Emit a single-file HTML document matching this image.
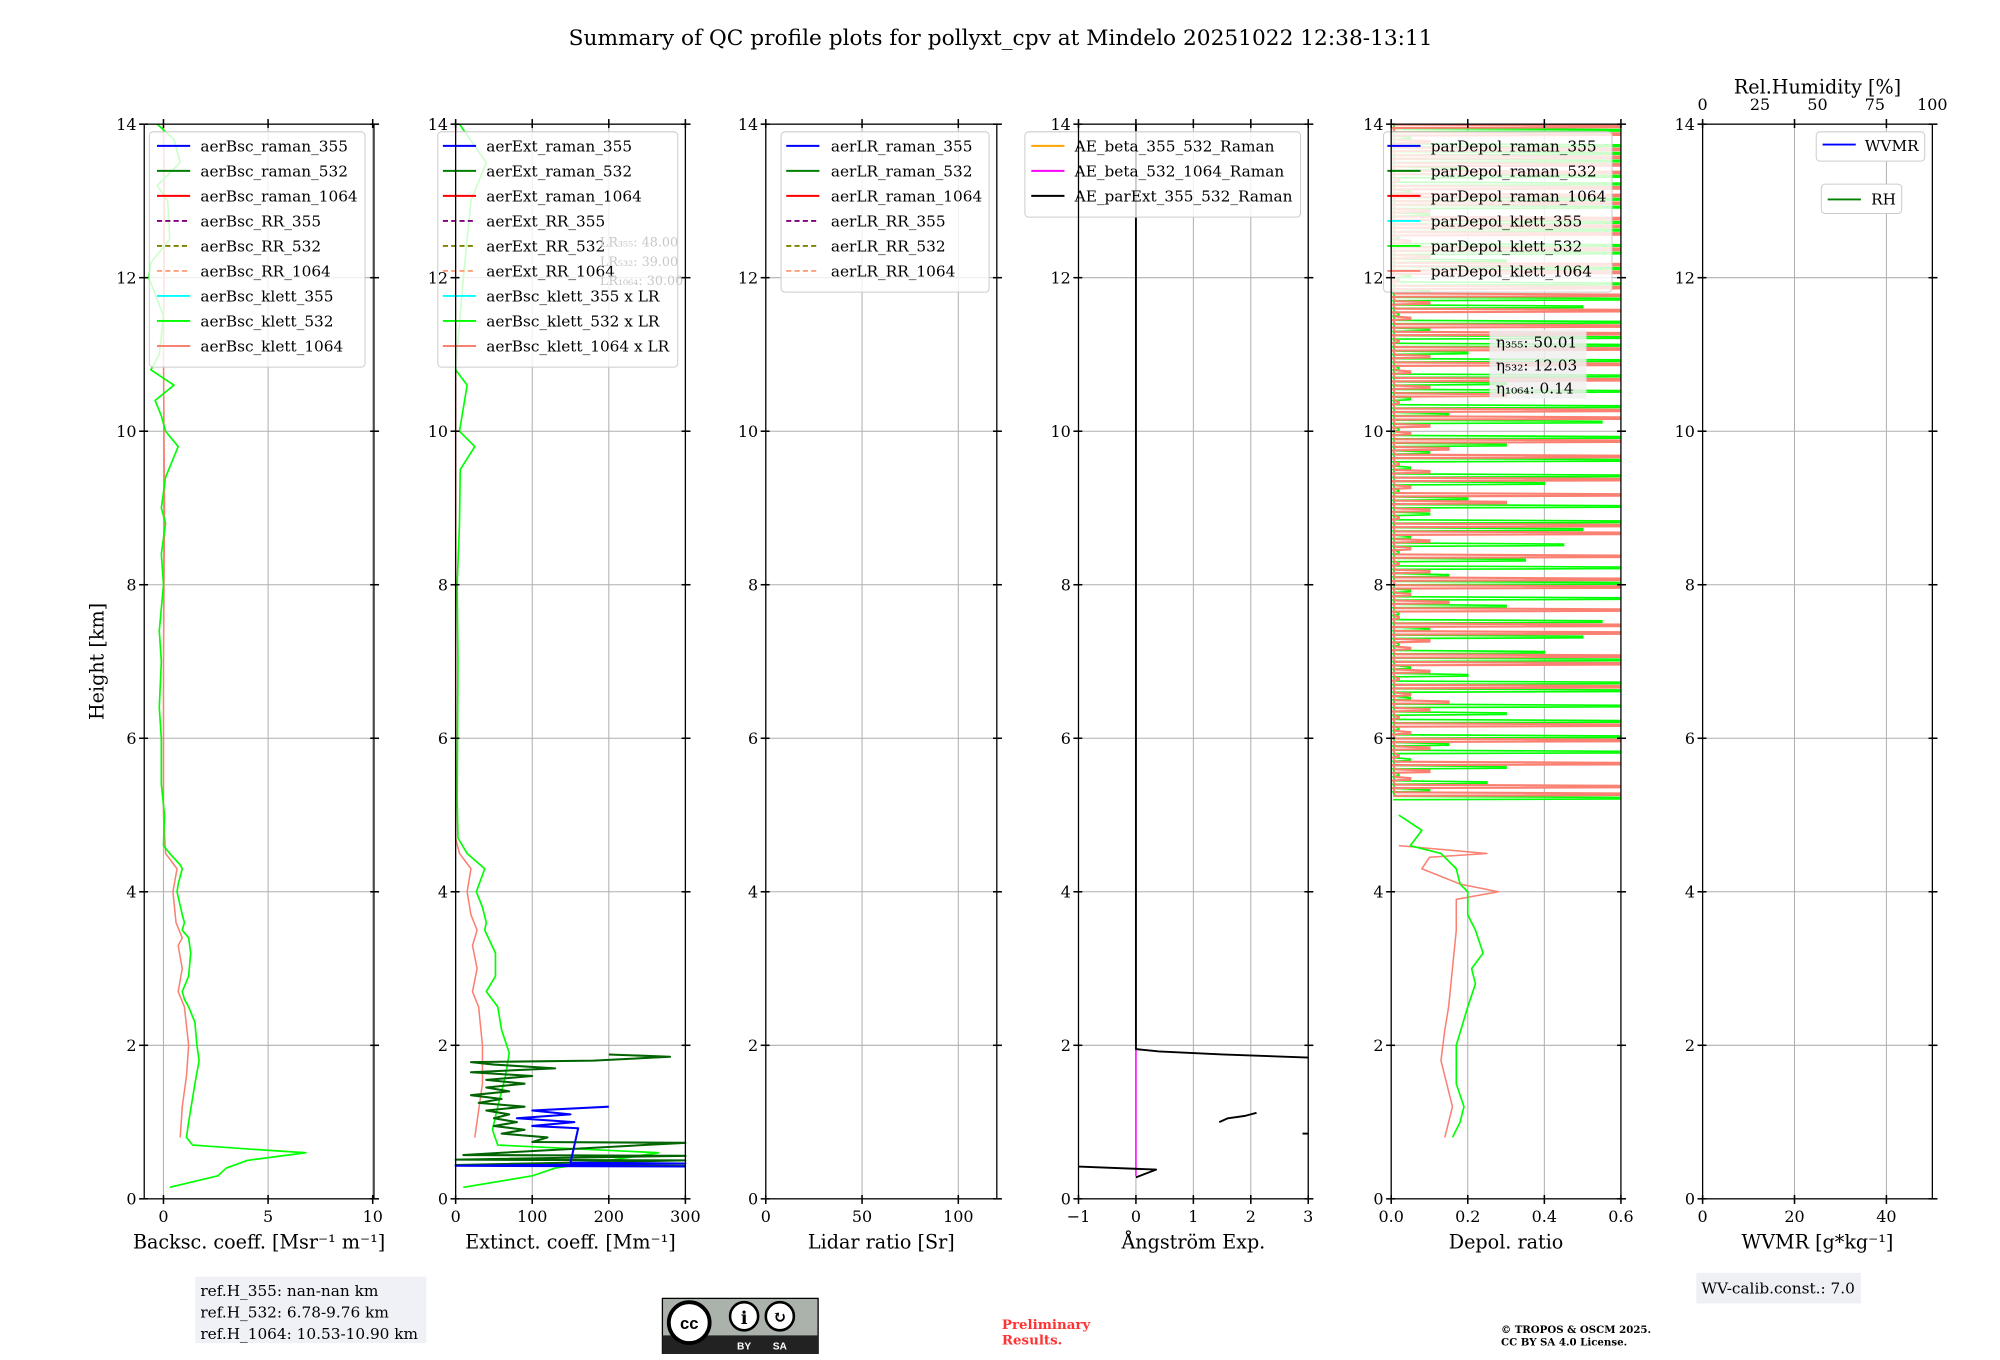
<!DOCTYPE html>
<html><head><meta charset="utf-8"><style>
html,body{margin:0;padding:0;background:#fff;}
svg{display:block;font-family:"DejaVu Serif","Liberation Serif",serif;}
</style></head><body>
<svg id="fig" width="2000" height="1360" viewBox="0 0 1567 1065" xmlns="http://www.w3.org/2000/svg">
<defs><clipPath id="dpclip"><rect x="1090" y="97" width="180" height="842"/></clipPath></defs>
<rect width="1567" height="1065" fill="#fff"/>
<text x="784" y="35" font-size="17" text-anchor="middle">Summary of QC profile plots for pollyxt_cpv at Mindelo 20251022 12:38-13:11</text>
<g id="plots"></g>
<text transform="translate(81,518) rotate(-90)" font-size="15" text-anchor="middle">Height [km]</text>
<g>
<rect x="153" y="1000" width="181" height="52" fill="#eef0f5" opacity="0.9"/>
<text x="157" y="1015" font-size="12">ref.H_355: nan-nan km</text>
<text x="157" y="1032" font-size="12">ref.H_532: 6.78-9.76 km</text>
<text x="157" y="1049" font-size="12">ref.H_1064: 10.53-10.90 km</text>
</g>
<g>
<rect x="519" y="1017" width="122" height="43" fill="#aab2ab" stroke="#000" stroke-width="1"/>
<rect x="519" y="1046" width="122" height="14" fill="#222"/>
<circle cx="540" cy="1036" r="16" fill="#fff" stroke="#000" stroke-width="3"/>
<text x="540" y="1041" font-size="13" font-weight="bold" text-anchor="middle" font-family="Liberation Sans,sans-serif">cc</text>
<circle cx="583" cy="1031" r="11" fill="#fff" stroke="#000" stroke-width="2"/>
<circle cx="611" cy="1031" r="11" fill="#fff" stroke="#000" stroke-width="2"/>
<text x="583" y="1037" font-size="14" font-weight="bold" text-anchor="middle">i</text>
<text x="611" y="1036" font-size="13" font-weight="bold" text-anchor="middle">↻</text>
<text x="583" y="1057" font-size="8" fill="#fff" text-anchor="middle" font-family="Liberation Sans,sans-serif" font-weight="bold">BY</text>
<text x="611" y="1057" font-size="8" fill="#fff" text-anchor="middle" font-family="Liberation Sans,sans-serif" font-weight="bold">SA</text>
</g>
<text x="785" y="1041" font-size="10.5" font-weight="bold" fill="#ff3333">Preliminary</text>
<text x="785" y="1053" font-size="10.5" font-weight="bold" fill="#ff3333">Results.</text>
<text x="1176" y="1044" font-size="8" font-weight="bold">© TROPOS &amp; OSCM 2025.</text>
<text x="1176" y="1054" font-size="8" font-weight="bold">CC BY SA 4.0 License.</text>
<g>
<rect x="1329" y="997" width="129" height="24" fill="#eef0f5"/>
<text x="1333" y="1013" font-size="12">WV-calib.const.: 7.0</text>
</g>
</svg>
<script>
// ---------- data ----------
const bscH532 = [0.15,0.3,0.4,0.5,0.6,0.65,0.7,0.8,1.0,1.5,1.8,2.0,2.3,2.5,2.6,2.7,2.9,3.2,3.4,3.5,3.6,3.7,4.0,4.1,4.3,4.35,4.5,4.6,5.0,5.4,6.0,6.4,7.0,7.4,8.0,8.4,8.8,9.0,9.4,9.8,10.0,10.2,10.4,10.6,10.8,11.0,11.5,12.0,12.2,12.5,13.0,13.2,13.5,13.8,14.0];
const bscV532 = [0.3,2.6,3.0,4.0,6.8,4.0,1.4,1.1,1.2,1.5,1.7,1.6,1.5,1.2,1.0,0.9,1.2,1.3,1.2,0.9,1.0,0.9,0.65,0.7,0.9,0.8,0.3,0.0,0.05,-0.1,-0.1,-0.2,-0.1,-0.2,0.0,-0.1,0.1,-0.1,0.1,0.7,0.1,-0.1,-0.4,0.5,-0.6,-0.2,0.0,-0.7,-0.6,0.3,0.2,-0.3,0.8,0.5,-0.3];
const bscH1064 = [0.8,1.2,1.6,2.0,2.5,2.7,3.0,3.3,3.4,3.6,4.0,4.3,4.5,5.0,7.0,9.0,11.0,13.0,14.0];
const bscV1064 = [0.8,0.9,1.1,1.2,1.0,0.7,0.9,0.7,0.9,0.6,0.45,0.65,0.1,0.0,0.0,0.05,0.0,0.05,0.0];
const extH532 = [0.15,0.3,0.4,0.5,0.6,0.65,0.7,0.9,1.2,1.6,1.9,2.2,2.5,2.7,2.9,3.2,3.5,3.6,3.8,4.0,4.3,4.5,4.7,5.2,7.0,8.0,8.8,9.5,9.8,10.0,10.6,10.8,12.0,13.0,13.5,14.0];
const extV532 = [10,100,130,200,265,160,55,48,55,65,70,60,55,40,52,52,38,40,35,27,38,15,3,2,3,2,5,6,25,5,15,0,10,20,40,5];
const extH1064 = [0.8,1.5,2.0,2.5,2.7,3.0,3.3,3.5,3.7,4.0,4.3,4.5,4.7,14.0];
const extV1064 = [25,35,35,30,22,28,22,28,20,15,20,5,0,0];
const ramH532 = [0.43,0.44,0.5,0.51,0.56,0.57,0.6,0.73,0.74,0.8,0.85,0.9,0.95,1.0,1.05,1.1,1.15,1.2,1.25,1.3,1.35,1.4,1.45,1.5,1.55,1.6,1.65,1.7,1.75,1.78,1.8,1.85,1.88];
const ramV532 = [300,0,300,0,300,10,60,300,100,120,60,90,50,80,50,70,40,90,30,60,20,70,40,90,40,100,20,130,50,20,180,280,200];
const ramH355 = [0.42,0.43,0.46,0.47,0.92,0.95,1.0,1.05,1.1,1.15,1.2];
const ramV355 = [300,0,300,150,160,100,155,80,150,100,200];
const aeH = [0.28,0.38,0.42];
const aeV = [0.0,0.35,-1.0];
const aeTopH = [1.84,1.88,1.92,1.95,14.0];
const aeTopV = [3.0,1.5,0.4,0.0,0.0];
const aeMidH = [1.0,1.05,1.08,1.12];
const aeMidV = [1.45,1.6,1.9,2.1];
const aeSegH = [0.85,0.85];
const aeSegV = [2.9,3.0];
const magH = [0.3,1.95];
const magV = [0.0,0.0];
const dpH532 = [0.8,1.0,1.2,1.5,2.0,2.5,2.8,3.0,3.2,3.5,3.7,4.0,4.1,4.3,4.5,4.6,4.8,5.0];
const dpV532 = [0.16,0.18,0.19,0.17,0.17,0.2,0.22,0.21,0.24,0.22,0.2,0.2,0.18,0.17,0.13,0.05,0.08,0.02];
const dpH1064 = [0.8,1.2,1.8,2.2,2.5,3.0,3.5,3.9,4.0,4.1,4.3,4.45,4.5,4.6];
const dpV1064 = [0.14,0.16,0.13,0.14,0.15,0.16,0.17,0.17,0.28,0.18,0.08,0.1,0.25,0.02];
// upper noisy depol, heights 5.2..14 step 0.1
const dpUpper532 = [0.6,0.1,0.25,0.02,0.3,0.05,0.6,0.15,0.6,0.02,0.6,0.3,0.6,0.05,0.6,0.6,0.2,0.05,0.6,0.4,0.02,0.5,0.1,0.55,0.02,0.3,0.6,0.05,0.6,0.15,0.6,0.35,0.02,0.45,0.05,0.5,0.6,0.1,0.6,0.2,0.02,0.4,0.6,0.05,0.6,0.1,0.3,0.6,0.02,0.55,0.15,0.6,0.05,0.6,0.3,0.6,0.02,0.6,0.2,0.6,0.6,0.1,0.6,0.02,0.5,0.6,0.1,0.6,0.05,0.6,0.3,0.6,0.6,0.02,0.6,0.6,0.1,0.6,0.6,0.05,0.6,0.6,0.2,0.6,0.6,0.6,0.05,0.6,0.6];
const dpUpper1064 = [0.6,0.6,0.05,0.1,0.6,0.02,0.1,0.6,0.05,0.6,0.02,0.1,0.15,0.05,0.6,0.02,0.1,0.6,0.6,0.05,0.1,0.6,0.6,0.02,0.6,0.15,0.05,0.6,0.6,0.1,0.02,0.6,0.05,0.1,0.6,0.6,0.02,0.1,0.3,0.6,0.05,0.6,0.1,0.02,0.6,0.15,0.6,0.05,0.1,0.6,0.6,0.02,0.3,0.1,0.6,0.05,0.6,0.1,0.6,0.02,0.6,0.6,0.05,0.6,0.1,0.6,0.6,0.02,0.6,0.6,0.1,0.6,0.05,0.6,0.6,0.6,0.1,0.6,0.6,0.6,0.02,0.6,0.6,0.6,0.6,0.1,0.6,0.6,0.6];
const yTicks = [0,2,4,6,8,10,12,14];

const NS = "http://www.w3.org/2000/svg";
const root = document.getElementById('plots');
const Y0 = 939, Y1 = 97;
function yPix(h){ return Y0 + (Y1 - Y0) * h / 14; }
function mk(tag, attrs, parent){
  const e = document.createElementNS(NS, tag);
  for (const k in attrs) e.setAttribute(k, attrs[k]);
  (parent || root).appendChild(e);
  return e;
}
const panels = [
  {name:'backscatter', x0:113, x1:293, min:-0.92, max:10.06, ticks:[0,5,10], labels:['0','5','10'], xlabel:'Backsc. coeff. [Msr⁻¹ m⁻¹]'},
  {name:'extinction', x0:357, x1:537, min:0, max:300, ticks:[0,100,200,300], labels:['0','100','200','300'], xlabel:'Extinct. coeff. [Mm⁻¹]'},
  {name:'lidar-ratio', x0:600, x1:781, min:0, max:120, ticks:[0,50,100], labels:['0','50','100'], xlabel:'Lidar ratio [Sr]'},
  {name:'angstrom', x0:845, x1:1025, min:-1, max:3, ticks:[-1,0,1,2,3], labels:['−1','0','1','2','3'], xlabel:'Ångström Exp.'},
  {name:'depol', x0:1090, x1:1270, min:0, max:0.6, ticks:[0,0.2,0.4,0.6], labels:['0.0','0.2','0.4','0.6'], xlabel:'Depol. ratio'},
  {name:'wvmr', x0:1334, x1:1514, min:0, max:50, ticks:[0,20,40], labels:['0','20','40'], xlabel:'WVMR [g*kg⁻¹]'}
];
function xPix(p, v){ return p.x0 + (p.x1 - p.x0) * (v - p.min) / (p.max - p.min); }
function line(p, hs, vs, color, w, name, g){
  const pts = hs.map((h,i)=> xPix(p, Math.max(p.min, Math.min(p.max, vs[i]))).toFixed(1)+','+yPix(h).toFixed(1)).join(' ');
  const e = mk('polyline', {points:pts, fill:'none', stroke:color, 'stroke-width':w, 'stroke-linejoin':'round'}, g);
  
  
  return e;
}
function spikes(p, hs, vs, color, w, name, g){
  const pts = [];
  hs.forEach((h,i)=>{
    const xv = xPix(p, Math.max(p.min, Math.min(p.max, vs[i])));
    pts.push(xPix(p,0.005).toFixed(1)+','+yPix(h).toFixed(1));
    pts.push(xv.toFixed(1)+','+yPix(h+0.01).toFixed(1));
    pts.push(xv.toFixed(1)+','+yPix(h+0.03).toFixed(1));
    pts.push(xPix(p,0.01).toFixed(1)+','+yPix(h+0.045).toFixed(1));
  });
  const e = mk('polyline', {points:pts.join(' '), fill:'none', stroke:color, 'stroke-width':w, 'clip-path':'url(#dpclip)'}, g);
  
  
}
const groups = panels.map(p => {
  const g = mk('g', {});
  
  
  p.ticks.forEach(t => mk('line', {x1:xPix(p,t), x2:xPix(p,t), y1:Y1, y2:Y0, stroke:'#b0b0b0', 'stroke-width':0.8}, g));
  yTicks.forEach(t => mk('line', {x1:p.x0, x2:p.x1, y1:yPix(t), y2:yPix(t), stroke:'#b0b0b0', 'stroke-width':0.8}, g));
  return g;
});
function frame(p, g){
  mk('rect', {x:p.x0, y:Y1, width:p.x1-p.x0, height:Y0-Y1, fill:'none', stroke:'#000', 'stroke-width':1}, g);
  yTicks.forEach(t => {
    mk('line', {x1:p.x0-4, x2:p.x0+3, y1:yPix(t), y2:yPix(t), stroke:'#000', 'stroke-width':1.2}, g);
    mk('line', {x1:p.x1-3, x2:p.x1+4, y1:yPix(t), y2:yPix(t), stroke:'#000', 'stroke-width':1.2}, g);
    const tl = mk('text', {x:p.x0-6, y:yPix(t)+4.5, 'font-size':12.5, 'text-anchor':'end'}, g);
    tl.textContent = String(t);
    
    
  });
  p.ticks.forEach((t,i) => {
    mk('line', {x1:xPix(p,t), x2:xPix(p,t), y1:Y0-3, y2:Y0+4, stroke:'#000', 'stroke-width':1.2}, g);
    mk('line', {x1:xPix(p,t), x2:xPix(p,t), y1:Y1-4, y2:Y1+3, stroke:'#000', 'stroke-width':1.2}, g);
    const tl = mk('text', {x:xPix(p,t), y:Y0+18, 'font-size':12.5, 'text-anchor':'middle'}, g);
    tl.textContent = p.labels[i];
    
    
  });
  const xl = mk('text', {x:(p.x0+p.x1)/2, y:978, 'font-size':15, 'text-anchor':'middle'}, g);
  xl.textContent = p.xlabel;
  
  
}
function legend(g, x, y, w, items, lineX, textX){
  const h = items.length*19.6 + 8;
  const box = mk('rect', {x:x, y:y, width:w, height:h, rx:3, fill:'#fff', 'fill-opacity':0.8, stroke:'#ccc', 'stroke-width':0.8}, g);
  
  
  items.forEach((it,i) => {
    const yy = y + 11 + i*19.6;
    const l = mk('line', {x1:lineX, x2:lineX+26, y1:yy, y2:yy, stroke:it[1], 'stroke-width':1.5}, g);
    if (it[2]) l.setAttribute('stroke-dasharray', '4,2.5');
    const t = mk('text', {x:textX, y:yy+4.5, 'font-size':12}, g);
    t.textContent = it[0];
    
    
  });
}
// panel 1
let p = panels[0], g = groups[0];
line(p, bscH1064, bscV1064, '#fa8072', 1.2, 'bsc-klett-1064', g);
line(p, bscH532, bscV532, '#00ff00', 1.3, 'bsc-klett-532', g);
legend(g, 117, 103, 169, [['aerBsc_raman_355','#0000ff'],['aerBsc_raman_532','#008000'],['aerBsc_raman_1064','#ff0000'],['aerBsc_RR_355','#800080',1],['aerBsc_RR_532','#808000',1],['aerBsc_RR_1064','#ffa07a',1],['aerBsc_klett_355','#00ffff'],['aerBsc_klett_532','#00ff00'],['aerBsc_klett_1064','#fa8072']], 123, 157);
frame(p, g);
// panel 2
p = panels[1]; g = groups[1];
line(p, extH1064, extV1064, '#fa8072', 1.2, 'ext-klett-1064', g);
line(p, extH532, extV532, '#00ff00', 1.3, 'ext-klett-532', g);
line(p, ramH532, ramV532, '#006400', 1.6, 'ext-raman-532', g);
line(p, ramH355, ramV355, '#0000ff', 1.6, 'ext-raman-355', g);
legend(g, 343, 103, 188, [['aerExt_raman_355','#0000ff'],['aerExt_raman_532','#008000'],['aerExt_raman_1064','#ff0000'],['aerExt_RR_355','#800080',1],['aerExt_RR_532','#808000',1],['aerExt_RR_1064','#ffa07a',1],['aerBsc_klett_355 x LR','#00ffff'],['aerBsc_klett_532 x LR','#00ff00'],['aerBsc_klett_1064 x LR','#fa8072']], 347, 381);
[['LR₃₅₅: 48.00',193],['LR₅₃₂: 39.00',208],['LR₁₀₆₄: 30.00',223]].forEach(a=>{
  const t = mk('text', {x:470, y:a[1], 'font-size':10, fill:'#c8c8c8'}, g);
  t.textContent = a[0];
  
  
});
frame(p, g);
// panel 3
p = panels[2]; g = groups[2];
legend(g, 612, 103, 163, [['aerLR_raman_355','#0000ff'],['aerLR_raman_532','#008000'],['aerLR_raman_1064','#ff0000'],['aerLR_RR_355','#800080',1],['aerLR_RR_532','#808000',1],['aerLR_RR_1064','#ffa07a',1]], 616, 651);
frame(p, g);
// panel 4
p = panels[3]; g = groups[3];
line(p, magH, magV, '#ff00ff', 1.2, 'ae-beta-532-1064', g);
line(p, aeTopH, aeTopV, '#000', 1.5, 'ae-parext-upper', g);
line(p, aeMidH, aeMidV, '#000', 1.5, 'ae-parext-mid', g);
line(p, aeSegH, aeSegV, '#000', 1.5, 'ae-parext-seg', g);
line(p, aeH, aeV, '#000', 1.5, 'ae-parext-low', g);
legend(g, 803, 103, 216, [['AE_beta_355_532_Raman','#ffa500'],['AE_beta_532_1064_Raman','#ff00ff'],['AE_parExt_355_532_Raman','#000000']], 808, 842);
frame(p, g);
// panel 5
p = panels[4]; g = groups[4];
const upH = dpUpper532.map((_,i)=> 5.2 + i*0.1);
const upH2 = dpUpper1064.map((_,i)=> 5.25 + i*0.1);
spikes(p, upH, dpUpper532, '#00ff00', 1.3, 'depol-klett-532-upper', g);
spikes(p, upH2, dpUpper1064, '#fa8072', 1.7, 'depol-klett-1064-upper', g);
line(p, dpH1064, dpV1064, '#fa8072', 1.2, 'depol-klett-1064', g);
line(p, dpH532, dpV532, '#00ff00', 1.3, 'depol-klett-532', g);
legend(g, 1084, 103, 179, [['parDepol_raman_355','#0000ff'],['parDepol_raman_532','#008000'],['parDepol_raman_1064','#ff0000'],['parDepol_klett_355','#00ffff'],['parDepol_klett_532','#00ff00'],['parDepol_klett_1064','#fa8072']], 1087, 1121);
mk('rect', {x:1167, y:258, width:76, height:54, fill:'#f0f0f0', 'fill-opacity':0.85}, g);
[['η₃₅₅: 50.01',272],['η₅₃₂: 12.03',290],['η₁₀₆₄: 0.14',308]].forEach(a=>{
  const t = mk('text', {x:1172, y:a[1], 'font-size':12}, g);
  t.textContent = a[0];
  
  
});
frame(p, g);
// panel 6
p = panels[5]; g = groups[5];
frame(p, g);
[0,25,50,75,100].forEach(v=>{
  const x = 1334 + 180*v/100;
  const t = mk('text', {x:x, y:86, 'font-size':12.5, 'text-anchor':'middle'}, g);
  t.textContent = String(v);
  
  
});
const rt = mk('text', {x:1424, y:73, 'font-size':15, 'text-anchor':'middle'}, g);
rt.textContent = 'Rel.Humidity [%]';


mk('rect', {x:1423, y:103, width:85, height:23, rx:3, fill:'#fff', stroke:'#ccc', 'stroke-width':0.8}, g);
mk('line', {x1:1428, x2:1454, y1:113, y2:113, stroke:'#0000ff', 'stroke-width':1.5}, g);
const w1 = mk('text', {x:1461, y:118, 'font-size':12}, g); w1.textContent = 'WVMR';


mk('rect', {x:1427, y:144, width:63, height:23, rx:3, fill:'#fff', stroke:'#ccc', 'stroke-width':0.8}, g);
mk('line', {x1:1432, x2:1458, y1:156, y2:156, stroke:'#008000', 'stroke-width':1.5}, g);
const w2 = mk('text', {x:1466, y:160, 'font-size':12}, g); w2.textContent = 'RH';


</script>
</body></html>
